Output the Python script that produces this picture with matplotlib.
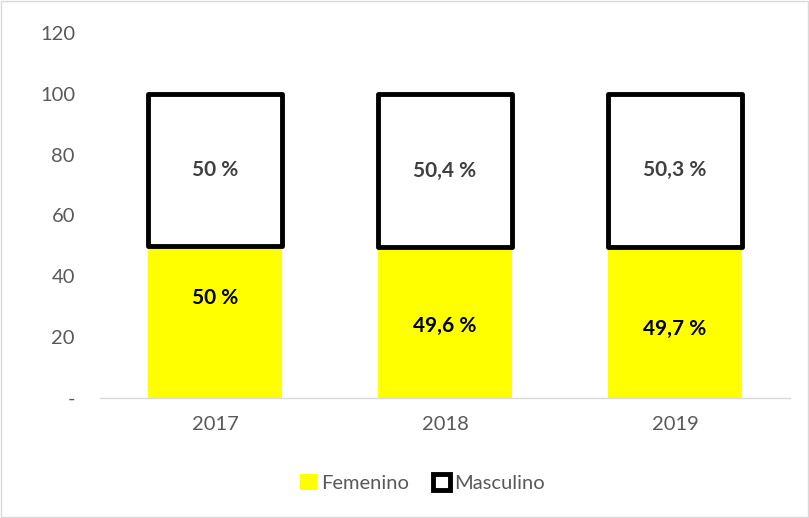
import matplotlib.pyplot as plt
from matplotlib.patches import Rectangle

years = ["2017", "2018", "2019"]
femenino = [50.0, 49.6, 49.7]
masculino = [50.0, 50.4, 50.3]
fem_labels = ["50 %", "49,6 %", "49,7 %"]
mas_labels = ["50 %", "50,4 %", "50,3 %"]
y_ticks = [0, 20, 40, 60, 80, 100, 120]
y_tick_labels = ["-", "20", "40", "60", "80", "100", "120"]

plt.rcParams["font.family"] = ["Lato", "DejaVu Sans"]

fig = plt.figure(figsize=(8.09, 5.18), dpi=100)
fig.patches.append(Rectangle((0.001, 0.001), 0.998, 0.997, transform=fig.transFigure,
                             fill=False, edgecolor="#d9d9d9", linewidth=1.0))
ax = fig.add_axes([0.1236, 0.2317, 0.853, 0.7046])

x = list(range(len(years)))
width = 0.58
ax.bar(x, femenino, width, color="#ffff00", edgecolor="none", label="Femenino", zorder=2)
ax.bar(x, masculino, width, bottom=femenino, color="white", edgecolor="black",
       linewidth=3.5, joinstyle="round", label="Masculino", zorder=3)

# the first yellow label sits a bit higher in the original
fem_shift = [8, -1, -2]
for i in x:
    ax.text(i, femenino[i] / 2 + fem_shift[i], fem_labels[i], ha="center", va="center",
            fontsize=15, fontweight="bold", color="black", zorder=4)
    ax.text(i, femenino[i] + masculino[i] / 2, mas_labels[i], ha="center", va="center",
            fontsize=15, fontweight="bold", color="#404040", zorder=4)

ax.set_xlim(-0.5, 2.5)
ax.set_ylim(0, 120)
ax.set_xticks(x)
ax.set_xticklabels(years)
ax.set_yticks(y_ticks)
ax.set_yticklabels(y_tick_labels)
ax.tick_params(axis="both", length=0, colors="#595959", labelsize=14.5)
ax.tick_params(axis="x", pad=13)
ax.tick_params(axis="y", pad=18)
for side in ["left", "right", "top"]:
    ax.spines[side].set_visible(False)
ax.spines["bottom"].set_color("#d9d9d9")
ax.spines["bottom"].set_linewidth(1.0)

leg = fig.legend(loc="center", bbox_to_anchor=(0.522, 0.068), ncol=2, frameon=False,
                 fontsize=14.5, handlelength=0.85, handleheight=0.85, handletextpad=0.2,
                 columnspacing=1.2)
for t in leg.get_texts():
    t.set_color("#595959")

fig.savefig("out.png", dpi=100)
